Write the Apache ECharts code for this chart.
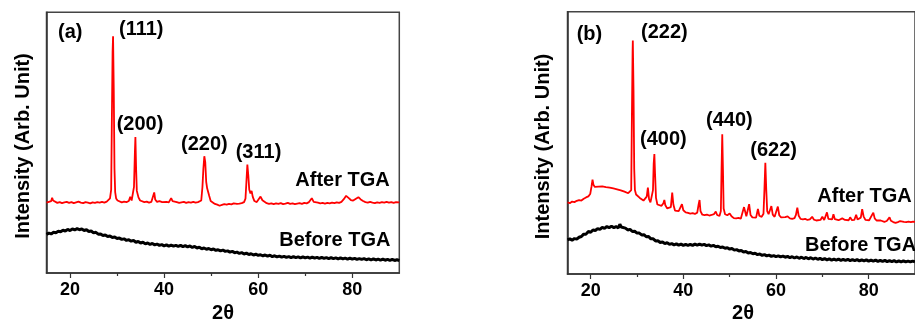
<!DOCTYPE html>
<html><head><meta charset="utf-8">
<script src="https://cdn.jsdelivr.net/npm/echarts@6/dist/echarts.min.js"></script>
<style>html,body{margin:0;padding:0;background:#fff}#c{width:915px;height:320px}</style>
</head><body><div id="c"></div>
<script>
// x ticks
const majorTicks = [20, 40, 60, 80];
const minorTicks = [30, 50, 70];
const xRange = [15, 90];

// Panel (a) After TGA [2theta, intensity]
const aAfter = [[15,27.0],[15.5,27.3],[16.0,27.6],[16.2,28.9],[16.4,27.8],[16.8,27.1],[17.3,26.9],[17.8,27.2],[18.3,26.8],[18.8,27.1],[19.3,27.3],[19.8,26.9],[20.3,27.2],[20.8,26.8],[21.3,27.1],[21.8,27.4],[22.3,27.0],[22.8,26.8],[23.3,27.2],[23.8,27.0],[24.3,26.7],[24.8,27.1],[25.3,26.9],[25.8,27.2],[26.3,27.0],[26.8,27.3],[27.3,27.0],[27.8,27.4],[28.2,27.7],[28.5,28.6],[28.75,32],[28.9,60],[29.05,85],[29.15,90.8],[29.3,70],[29.45,40],[29.6,31],[29.8,28.6],[30.1,27.8],[30.5,27.4],[31.0,27.1],[31.5,27.4],[32.0,27.2],[32.5,27.6],[32.8,29.2],[33.1,27.8],[33.4,28.1],[33.6,33],[33.8,47],[33.9,52.2],[34.05,40],[34.2,31.5],[34.35,31.8],[34.55,29],[34.9,27.8],[35.3,27.6],[35.8,27.2],[36.3,27.4],[36.8,27.0],[37.3,27.3],[37.7,28.0],[37.9,30.9],[38.1,28.2],[38.5,27.3],[39.0,27.6],[39.3,27.9],[39.6,27.2],[40.0,27.0],[40.5,27.3],[41.0,27.1],[41.3,27.8],[41.5,28.7],[41.8,27.6],[42.2,27.0],[42.7,27.2],[43.2,26.9],[43.7,27.1],[44.2,27.3],[44.7,26.9],[45.2,27.2],[45.7,27.0],[46.2,27.3],[46.7,27.0],[47.2,27.2],[47.6,27.0],[47.9,27.8],[48.15,33],[48.35,40],[48.55,44.8],[48.75,42.5],[48.95,35],[49.15,32.5],[49.35,32.8],[49.6,29.5],[49.9,27.6],[50.3,26.9],[50.8,26.5],[51.3,26.2],[51.8,25.8],[52.3,26.1],[52.8,26.4],[53.3,26.2],[53.8,26.5],[54.3,26.3],[54.8,26.7],[55.1,27.2],[55.5,26.5],[56.0,26.6],[56.5,26.8],[57.0,27.2],[57.3,28.5],[57.5,35],[57.7,41.6],[57.9,37.5],[58.1,32],[58.35,30.5],[58.6,31.5],[58.85,29.2],[59.2,27.6],[59.7,27.2],[60.1,27.8],[60.5,29.3],[60.9,27.9],[61.3,27.2],[61.8,26.8],[62.3,26.5],[62.8,26.7],[63.3,26.4],[63.8,26.7],[64.3,26.5],[64.8,26.8],[65.3,26.4],[65.8,26.6],[66.3,26.9],[66.8,26.5],[67.3,26.7],[67.8,26.4],[68.3,26.6],[68.8,26.8],[69.3,26.5],[69.8,26.9],[70.3,26.7],[70.8,27.2],[71.4,28.7],[71.8,27.3],[72.2,26.8],[72.7,27.0],[73.2,26.7],[73.7,26.9],[74.2,26.6],[74.7,26.9],[75.2,26.7],[75.7,27.0],[76.2,26.8],[76.7,27.1],[77.2,26.9],[77.7,27.3],[78.2,28.3],[78.7,29.6],[79.2,28.8],[79.7,28.0],[80.2,27.8],[80.7,28.4],[81.3,29.1],[81.8,28.2],[82.3,27.6],[82.8,27.2],[83.3,27.0],[83.8,27.3],[84.3,27.0],[84.8,26.8],[85.3,27.1],[85.8,26.9],[86.3,27.2],[86.8,27.0],[87.3,27.3],[87.8,27.0],[88.3,27.2],[88.8,26.9],[89.3,27.2],[90,27.1]];

// Panel (a) Before TGA
const aBefore = [[15,14.8],[15.5,15.3],[16,15.0],[16.5,15.6],[17,15.4],[17.5,16.0],[18,15.8],[18.5,16.4],[19,16.1],[19.5,16.7],[20,16.3],[20.5,16.9],[21,16.5],[21.5,17.0],[22,16.6],[22.5,16.9],[23,16.3],[23.5,16.6],[24,15.9],[24.5,16.1],[25,15.4],[25.5,15.6],[26,14.9],[26.5,15.0],[27,14.4],[27.5,14.6],[28,14.0],[28.5,14.2],[29,13.6],[29.5,13.8],[30,13.2],[30.5,13.4],[31,12.9],[31.5,13.1],[32,12.5],[32.5,12.8],[33,12.2],[33.5,12.5],[34,11.8],[34.5,12.1],[35,11.5],[35.5,11.8],[36,11.2],[36.5,11.5],[37,11.0],[37.5,11.3],[38,10.8],[38.5,11.1],[39,10.6],[39.5,10.9],[40,10.4],[40.5,10.8],[41,10.3],[41.5,10.7],[42,10.3],[42.5,10.6],[43,10.2],[43.5,10.6],[44,10.1],[44.5,10.5],[45,10.0],[45.5,10.4],[46,9.8],[46.5,10.2],[47,9.6],[47.5,9.9],[48,9.3],[48.5,9.6],[49,9.1],[49.5,9.4],[50,8.9],[50.5,9.2],[51,8.7],[51.5,8.9],[52,8.5],[52.5,8.8],[53,8.3],[53.5,8.5],[54,8.0],[54.5,8.3],[55,7.8],[55.5,8.0],[56,7.5],[56.5,7.8],[57,7.3],[57.5,7.6],[58,7.1],[58.5,7.4],[59,6.9],[59.5,7.2],[60,6.8],[60.5,7.0],[61,6.6],[61.5,6.9],[62,6.5],[62.5,6.8],[63,6.3],[63.5,6.6],[64,6.2],[64.5,6.5],[65,6.1],[65.5,6.4],[66,6.0],[66.5,6.3],[67,5.9],[67.5,6.3],[68,5.9],[68.5,6.2],[69,5.8],[69.5,6.2],[70,5.8],[70.5,6.1],[71,5.7],[71.5,6.1],[72,5.7],[72.5,6.0],[73,5.6],[73.5,6.0],[74,5.6],[74.5,5.9],[75,5.5],[75.5,5.9],[76,5.5],[76.5,5.8],[77,5.4],[77.5,5.8],[78,5.4],[78.5,5.7],[79,5.3],[79.5,5.7],[80,5.3],[80.5,5.6],[81,5.2],[81.5,5.5],[82,5.2],[82.5,5.5],[83,5.1],[83.5,5.4],[84,5.0],[84.5,5.4],[85,5.0],[85.5,5.3],[86,4.9],[86.5,5.3],[87,4.9],[87.5,5.2],[88,4.8],[88.5,5.2],[89,4.8],[89.5,5.1],[90,4.8]];

// Panel (b) After TGA
const bAfter = [[15,27.3],[15.5,27.0],[16,27.6],[16.5,27.4],[17,27.9],[17.5,28.2],[18,28.0],[18.5,28.7],[19,29.2],[19.5,29.6],[19.9,30.5],[20.2,33.5],[20.4,36.0],[20.6,34.0],[20.9,33.2],[21.3,33.6],[21.7,33.3],[22.1,33.7],[22.5,33.4],[22.9,33.6],[23.3,33.1],[23.7,33.4],[24.1,32.9],[24.5,33.1],[24.9,32.6],[25.3,32.8],[25.7,32.3],[26.1,32.4],[26.5,31.9],[26.9,31.9],[27.3,31.4],[27.7,31.2],[28.1,30.8],[28.5,30.5],[28.75,32],[28.9,60],[29.05,85],[29.1,89.0],[29.25,70],[29.4,40],[29.55,32],[29.8,30.3],[30.2,29.6],[30.6,29.0],[31.0,28.6],[31.4,28.0],[31.8,27.8],[32.1,29.5],[32.35,32.9],[32.6,28.5],[32.9,27.3],[33.2,27.0],[33.45,32],[33.6,42],[33.75,45.7],[33.9,38],[34.1,29],[34.4,26.5],[34.8,26.2],[35.3,26.0],[35.7,27.0],[35.9,28.2],[36.1,26.3],[36.5,25.0],[36.9,24.6],[37.3,25.5],[37.6,31.0],[37.85,26.5],[38.2,24.2],[38.6,23.9],[39.0,24.0],[39.4,24.2],[39.7,26.6],[40.0,24.3],[40.5,23.5],[41.0,23.3],[41.5,23.0],[42.0,23.2],[42.5,22.9],[43.0,23.4],[43.3,26.5],[43.5,28.2],[43.7,24.0],[44.1,22.6],[44.6,22.4],[45.1,22.6],[45.6,22.3],[46.1,22.5],[46.6,22.8],[47.0,23.8],[47.3,22.5],[47.8,22.1],[48.1,24.0],[48.25,40],[48.4,53.3],[48.55,40],[48.7,25.0],[49.0,22.8],[49.5,22.4],[50.0,23.1],[50.4,22.0],[50.9,21.3],[51.4,21.2],[51.9,21.4],[52.4,21.1],[52.8,21.6],[53.1,25.5],[53.3,25.2],[53.6,22.0],[53.9,22.3],[54.2,26.6],[54.5,22.5],[54.9,21.6],[55.3,21.8],[55.7,21.5],[56.1,24.8],[56.4,22.2],[56.9,21.8],[57.3,23.0],[57.5,32],[57.7,42.4],[57.9,32],[58.1,24.0],[58.4,22.8],[58.7,22.5],[59.0,25.9],[59.3,22.6],[59.7,21.8],[60.1,22.2],[60.4,25.7],[60.7,22.4],[61.1,21.6],[61.5,21.4],[62.0,21.7],[62.5,22.0],[63.0,21.2],[63.5,21.0],[64.0,21.3],[64.3,22.5],[64.6,25.3],[64.9,22.2],[65.3,21.0],[65.8,20.8],[66.3,21.0],[66.8,20.6],[67.3,20.8],[67.8,21.8],[68.2,20.7],[68.7,20.4],[69.1,20.3],[69.6,20.6],[70.0,21.8],[70.4,20.6],[70.8,21.2],[71.0,23.5],[71.3,21.0],[71.7,20.6],[72.1,20.8],[72.4,22.8],[72.7,20.9],[73.1,20.3],[73.5,20.5],[73.9,20.4],[74.3,21.2],[74.6,21.8],[74.9,20.6],[75.3,20.3],[75.7,20.5],[76.0,21.6],[76.4,20.5],[76.9,20.6],[77.3,22.6],[77.6,20.8],[78.0,20.6],[78.3,21.5],[78.6,24.7],[78.9,22.0],[79.3,20.6],[79.7,20.3],[80.1,20.5],[80.5,20.6],[81.0,23.4],[81.3,21.2],[81.7,20.4],[82.1,20.2],[82.6,20.4],[83.0,20.0],[83.4,19.9],[83.9,20.2],[84.2,20.8],[84.5,21.6],[84.8,20.3],[85.3,19.8],[85.8,19.5],[86.3,19.8],[86.8,20.2],[87.2,20.6],[87.6,19.9],[88.1,19.8],[88.6,20.0],[89.1,19.8],[89.6,20.0],[90,19.9]];

// Panel (b) Before TGA
const bBefore = [[15,13.0],[15.5,13.4],[16,12.9],[16.5,13.5],[17,13.3],[17.5,14.0],[18,14.3],[18.5,15.2],[19,15.2],[19.5,16.2],[20,15.9],[20.5,16.8],[21,16.6],[21.5,17.3],[22,17.0],[22.5,17.8],[23,17.4],[23.5,18.1],[24,17.7],[24.5,18.2],[25,17.7],[25.5,18.1],[26,17.6],[26.3,19.0],[26.6,17.9],[27,17.3],[27.5,17.5],[28,16.8],[28.5,17.0],[29,16.2],[29.5,16.3],[30,15.6],[30.5,15.6],[31,14.9],[31.5,15.0],[32,14.2],[32.5,14.3],[33,13.4],[33.5,13.4],[34,12.6],[34.5,12.7],[35,12.0],[35.5,12.2],[36,11.6],[36.5,11.9],[37,11.3],[37.5,11.6],[38,11.1],[38.5,11.5],[39,11.0],[39.5,11.4],[40,10.9],[40.5,11.3],[41,10.9],[41.5,11.3],[42,10.9],[42.5,11.4],[43,11.0],[43.5,11.4],[44,11.0],[44.5,11.3],[45,10.8],[45.5,11.1],[46,10.6],[46.5,10.9],[47,10.4],[47.5,10.6],[48,10.1],[48.5,10.3],[49,9.8],[49.5,10.0],[50,9.5],[50.5,9.7],[51,9.1],[51.5,9.3],[52,8.8],[52.5,9.0],[53,8.4],[53.5,8.6],[54,8.0],[54.5,8.2],[55,7.7],[55.5,7.9],[56,7.4],[56.5,7.6],[57,7.1],[57.5,7.4],[58,6.9],[58.5,7.2],[59,6.7],[59.5,7.0],[60,6.6],[60.5,6.9],[61,6.5],[61.5,6.8],[62,6.4],[62.5,6.7],[63,6.2],[63.5,6.6],[64,6.1],[64.5,6.5],[65,6.0],[65.5,6.4],[66,5.9],[66.5,6.3],[67,5.8],[67.5,6.2],[68,5.7],[68.5,6.1],[69,5.6],[69.5,6.0],[70,5.5],[70.5,5.9],[71,5.4],[71.5,5.8],[72,5.3],[72.5,5.7],[73,5.3],[73.5,5.7],[74,5.2],[74.5,5.6],[75,5.2],[75.5,5.6],[76,5.1],[76.5,5.5],[77,5.1],[77.5,5.5],[78,5.0],[78.5,5.4],[79,5.0],[79.5,5.4],[80,4.9],[80.5,5.3],[81,4.9],[81.5,5.3],[82,4.8],[82.5,5.2],[83,4.8],[83.5,5.2],[84,4.7],[84.5,5.1],[85,4.7],[85.5,5.1],[86,4.6],[86.5,5.0],[87,4.6],[87.5,5.0],[88,4.6],[88.5,4.9],[89,4.6],[89.5,4.9],[90,4.6]];

// Text
const yTitle = 'Intensity (Arb. Unit)';
const aPeaks = ['(111)', '(200)', '(220)', '(311)'];
const bPeaks = ['(222)', '(400)', '(440)', '(622)'];
const seriesNames = ['After TGA', 'Before TGA'];

const FONT = '"Liberation Sans", Arial, sans-serif';
const chart = echarts.init(document.getElementById('c'), null, {renderer: 'canvas'});

function xAxes(gi) {
  return [
    {type: 'value', gridIndex: gi, min: xRange[0], max: xRange[1], position: 'bottom',
     axisLine: {show: true, onZero: false, lineStyle: {color: '#333', width: 1.5}},
     axisTick: {show: true, inside: false, length: 5, customValues: majorTicks, lineStyle: {color: '#333', width: 1.2}},
     axisLabel: {show: true, customValues: majorTicks, margin: 8, color: '#000', fontSize: 18, fontWeight: 'bold', fontFamily: FONT},
     splitLine: {show: false}},
    {type: 'value', gridIndex: gi, min: xRange[0], max: xRange[1], position: 'bottom',
     axisLine: {show: false},
     axisTick: {show: true, inside: false, length: 3, customValues: minorTicks, lineStyle: {color: '#333', width: 1.2}},
     axisLabel: {show: false}, splitLine: {show: false}}
  ];
}
function yAxis(gi) {
  return {type: 'value', gridIndex: gi, min: 0, max: 100,
    axisLine: {show: true, onZero: false, lineStyle: {color: '#333', width: 1.5}},
    axisTick: {show: false}, axisLabel: {show: false}, splitLine: {show: false}};
}
function txt(x, y, s, align) {
  return {type: 'text', x: x, y: y, style: {text: s, fill: '#000', font: 'bold 20px ' + FONT, textAlign: align || 'left', textVerticalAlign: 'middle'}};
}

const option = {
  animation: false,
  backgroundColor: '#fff',
  grid: [
    {left: 46.5, top: 12.3, width: 352.8, height: 260.7, show: true, borderColor: '#444', borderWidth: 1.5, backgroundColor: 'transparent'},
    {left: 567.5, top: 11.7, width: 359.5, height: 262.3, show: true, borderColor: '#444', borderWidth: 1.5, backgroundColor: 'transparent'}
  ],
  xAxis: [...xAxes(0), ...xAxes(1)],
  yAxis: [yAxis(0), yAxis(1)],
  series: [
    {name: seriesNames[0], type: 'line', xAxisIndex: 0, yAxisIndex: 0, data: aAfter, showSymbol: false, lineStyle: {color: '#ff0000', width: 1.8}, z: 3},
    {name: seriesNames[1], type: 'line', xAxisIndex: 0, yAxisIndex: 0, data: aBefore, showSymbol: false, lineStyle: {color: '#000', width: 3}, z: 2},
    {name: seriesNames[0], type: 'line', xAxisIndex: 2, yAxisIndex: 1, data: bAfter, showSymbol: false, lineStyle: {color: '#ff0000', width: 1.8}, z: 3},
    {name: seriesNames[1], type: 'line', xAxisIndex: 2, yAxisIndex: 1, data: bBefore, showSymbol: false, lineStyle: {color: '#000', width: 3}, z: 2}
  ],
  graphic: [
    txt(58, 32, '(a)'),
    txt(119, 29, aPeaks[0]), txt(116.7, 124, aPeaks[1]), txt(181, 144, aPeaks[2]), txt(235.7, 152.3, aPeaks[3]),
    txt(295.3, 180, seriesNames[0]), txt(279.3, 240, seriesNames[1]),
    txt(576.7, 34, '(b)'),
    txt(641, 32.7, bPeaks[0]), txt(640, 139.3, bPeaks[1]), txt(706, 120.7, bPeaks[2]), txt(750.3, 150, bPeaks[3]),
    txt(817.3, 196, seriesNames[0]), txt(805, 245, seriesNames[1]),
    {type: 'text', x: 23, y: 146, rotation: Math.PI / 2, style: {text: yTitle, fill: '#000', font: 'bold 20px ' + FONT, textAlign: 'center', textVerticalAlign: 'middle'}},
    {type: 'text', x: 543, y: 146.5, rotation: Math.PI / 2, style: {text: yTitle, fill: '#000', font: 'bold 20px ' + FONT, textAlign: 'center', textVerticalAlign: 'middle'}},
    {type: 'text', x: 223, y: 313, style: {text: '2θ', fill: '#000', font: 'bold 20px ' + FONT, textAlign: 'center', textVerticalAlign: 'middle'}},
    {type: 'text', x: 743, y: 313, style: {text: '2θ', fill: '#000', font: 'bold 20px ' + FONT, textAlign: 'center', textVerticalAlign: 'middle'}}
  ]
};
chart.setOption(option);
</script>
</body></html>
